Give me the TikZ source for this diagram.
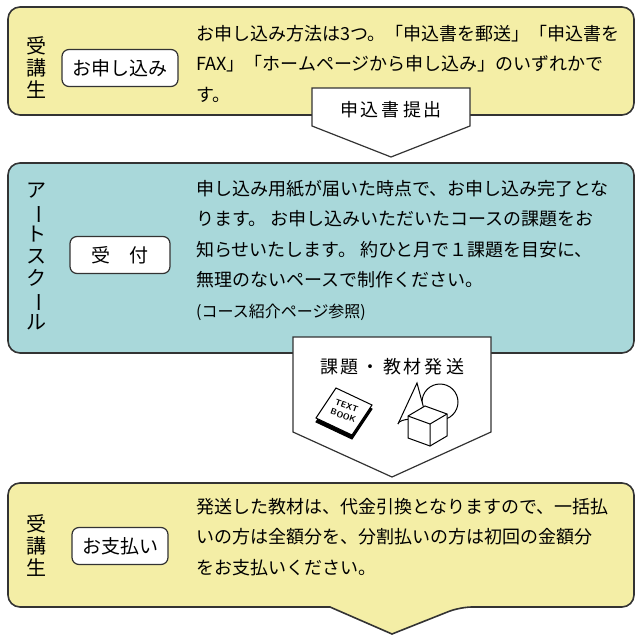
\documentclass[tikz,border=0pt]{standalone}
\usepackage{fontspec}
\setmainfont{Noto Sans CJK JP}
\usetikzlibrary{positioning}
\definecolor{stepyellow}{HTML}{F4EEA6}
\definecolor{stepteal}{HTML}{A9D8DA}
\definecolor{edgegray}{HTML}{333333}
\tikzset{
  stagebox/.style={draw=edgegray, line width=1.6pt, rounded corners=12pt},
  tagbox/.style={draw=edgegray, line width=1.2pt, fill=white, rounded corners=7pt, minimum height=37pt, font=\fontsize{19}{22}\selectfont},
  flowarrow/.style={draw=edgegray, line width=1.2pt, fill=white},
  bodytext/.style={anchor=north west, align=left, inner sep=0pt, font=\fontsize{18}{30.5}\selectfont},
  sidetext/.style={align=center, font=\fontsize{20}{22}\selectfont},
}
\begin{document}
\begin{tikzpicture}[x=1pt, y=-1pt]
    \useasboundingbox (0,0) rectangle (640,643);

    % stage 1
    \draw[stagebox, fill=stepyellow] (8,7) rectangle (634,115);
    \node[sidetext] (side1) at (37,68) {受\\講\\生};
    \node[tagbox, minimum width=116pt] (apply) at (120,68) {お申し込み};
    \node[bodytext] (text1) at (196,25) {お申し込み方法は3つ。「申込書を郵送」「申込書を\\FAX」「ホームページから申し込み」のいずれかで\\す。};

    % arrow 1
    \draw[flowarrow] (312,88) -- (470,88) -- (470,126) -- (391,157) -- (312,126) -- cycle;
    \node[font=\fontsize{18}{20}\selectfont] (send1) at (391,110) {申\,込\,書\,提\,出};

    % stage 2
    \draw[stagebox, fill=stepteal] (8,163) rectangle (634,353);
    \node[sidetext] (side2) at (36,256) {ア\\\rotatebox[origin=c]{-90}{ー}\\ト\\ス\\ク\\\rotatebox[origin=c]{-90}{ー}\\ル};
    \node[tagbox, minimum width=100pt] (accept) at (120,255) {受\quad 付};
    \node[bodytext] (text2) at (196,180) {申し込み用紙が届いた時点で、お申し込み完了とな\\ります。 お申し込みいただいたコースの課題をお\\知らせいたします。 約ひと月で１課題を目安に、\\無理のないペースで制作ください。\\{\fontsize{16}{30}\selectfont(コース紹介ページ参照)}};

    % arrow 2
    \draw[flowarrow] (293,337) -- (491,337) -- (491,432) -- (392,477) -- (293,432) -- cycle;
    \node[font=\fontsize{18}{20}\selectfont] (send2) at (392,367) {課\,題\,・\,教\,材\,発\,送};
    % textbook
    \draw[line width=1pt, fill=black] (316,422) -- (352,439) -- (372,409) -- (336,392) -- cycle;
    \draw[line width=1pt, fill=white] (316,418) -- (352,435) -- (372,405) -- (336,388) -- cycle;
    \node[rotate=-20, inner sep=0pt, font=\sffamily\bfseries\fontsize{8.5}{10}\selectfont, align=center] (book) at (345,411) {TEXT\\BOOK};
    % cone, sphere, cube
    \draw[line width=1pt, fill=white] (440,402) circle (18);
    \draw[line width=1pt, fill=white] (398,424) -- (417,383) -- (428,424);
    \draw[line width=1pt, fill=white] (398,424) arc (180:360:15 and 5);
    \draw[line width=1pt, fill=white] (408,416) -- (425,406) -- (447,414) -- (447,436) -- (430,446) -- (408,438) -- cycle;
    \draw[line width=1pt] (408,416) -- (430,424) -- (447,414) (430,424) -- (430,446);

    % stage 3
    \draw[stagebox, fill=stepyellow, rounded corners=12pt] (330,607) -- (8,607) -- (8,483) -- (634,483) -- (634,607) -- (460,607) [sharp corners] -- (392,634) -- cycle;
    \node[sidetext] (side3) at (37,546) {受\\講\\生};
    \node[tagbox, minimum width=96pt] (pay) at (120,546) {お支払い};
    \node[bodytext] (text3) at (196,498) {発送した教材は、代金引換となりますので、一括払\\いの方は全額分を、分割払いの方は初回の金額分\\をお支払いください。};
\end{tikzpicture}
\end{document}
